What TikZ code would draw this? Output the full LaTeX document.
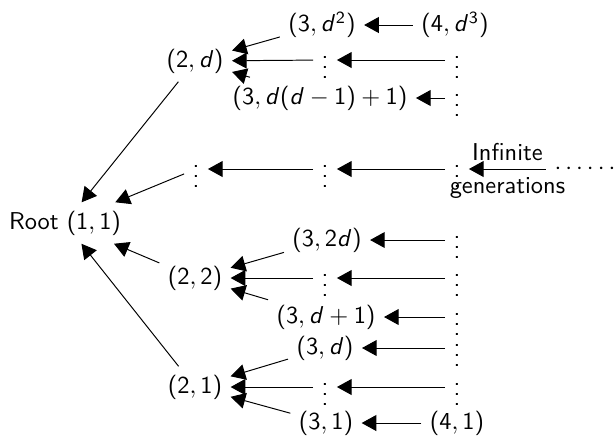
\documentclass[tikz,border=0pt]{standalone}
\usepackage{tikz}
\usetikzlibrary{arrows.meta}
\SetSymbolFont{operators}{normal}{OT1}{cmss}{m}{n}
\DeclareMathAlphabet{\mathsfit}{OT1}{cmss}{m}{sl}
\newcommand{\vd}{\mathsfit{d}}

\begin{document}
\begin{tikzpicture}[
    x=0.41pt, y=-0.41pt,
    font=\sffamily,
    gen/.style={inner sep=3.3pt},
    rel/.style={-{Triangle[length=6pt, width=6.5pt]}}
]
\useasboundingbox (0,0) rectangle (615,435);
\node[gen] (root) at (65,223) {Root $(1,1)$};
\node[gen] (twod) at (195,61) {$(2,\vd)$};
\node[gen] (twov) at (196,169) {$\vdots$};
\node[gen] (twotwo) at (195,278) {$(2,2)$};
\node[gen] (twoone) at (195,387) {$(2,1)$};

\node[gen] (threedd) at (322,25) {$(3,\vd^2)$};
\node[gen] (threedv) at (325,60) {$\vdots$};
\node[gen] (threedl) at (320,98) {$(3,\vd(\vd-1)+1)$};
\node[gen] (threev) at (325,169) {$\vdots$};
\node[gen] (threetwod) at (327,240) {$(3,2\vd)$};
\node[gen] (threetwov) at (325,278) {$\vdots$};
\node[gen] (threedone) at (326,317) {$(3,\vd+1)$};
\node[gen] (threed) at (325,348) {$(3,\vd)$};
\node[gen] (threeonev) at (325,387) {$\vdots$};
\node[gen] (threeone) at (326,423) {$(3,1)$};

\node[gen] (fourddd) at (455,25) {$(4,\vd^3)$};
\node[gen] (fourdv) at (457,60) {$\vdots$};
\node[gen] (fourdl) at (457,98) {$\vdots$};
\node[gen] (fourv) at (457,169) {$\vdots$};
\node[gen] (fourtwod) at (457,240) {$\vdots$};
\node[gen] (fourtwov) at (457,278) {$\vdots$};
\node[gen] (fourdone) at (457,317) {$\vdots$};
\node[gen] (fourd) at (457,348) {$\vdots$};
\node[gen] (fouronev) at (457,387) {$\vdots$};
\node[gen] (fourone) at (457,423) {$(4,1)$};

\node[gen] (inf) at (585,169) {$\cdots\cdots$};

\draw[rel] (twod) -- (root);
\draw[rel] (twov) -- (root);
\draw[rel] (twotwo) -- (root);
\draw[rel] (twoone) -- (root);

\draw[rel] (threedd) -- (twod);
\draw[rel] (threedv) -- (twod);
\draw[rel] (threedl) -- (twod);
\draw[rel] (threev) -- (twov);
\draw[rel] (threetwod) -- (twotwo);
\draw[rel] (threetwov) -- (twotwo);
\draw[rel] (threedone) -- (twotwo);
\draw[rel] (threed) -- (twoone);
\draw[rel] (threeonev) -- (twoone);
\draw[rel] (threeone) -- (twoone);

\draw[rel] (fourddd) -- (threedd);
\draw[rel] (fourdv) -- (threedv);
\draw[rel] (fourdl) -- (threedl);
\draw[rel] (fourv) -- (threev);
\draw[rel] (fourtwod) -- (threetwod);
\draw[rel] (fourtwov) -- (threetwov);
\draw[rel] (fourdone) -- (threedone);
\draw[rel] (fourd) -- (threed);
\draw[rel] (fouronev) -- (threeonev);
\draw[rel] (fourone) -- (threeone);

\draw[rel] (inf) -- node[above]{Infinite} node[below]{generations} (fourv);
\end{tikzpicture}
\end{document}
